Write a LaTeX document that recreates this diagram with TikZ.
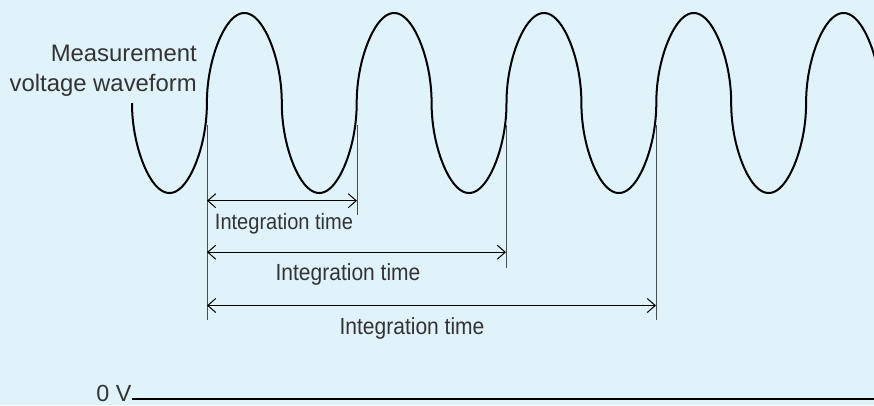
\documentclass[tikz,border=0pt]{standalone}
\usepackage{fontspec}
\setmainfont{Liberation Sans}
\newfontfamily\narrowfont[FakeStretch=0.9]{Liberation Sans}
\usetikzlibrary{arrows.meta}
\definecolor{bgblue}{RGB}{224,243,251}
\definecolor{textgray}{RGB}{51,51,51}

\begin{document}
\begin{tikzpicture}[x=0.75pt, y=-0.75pt,
    wave/.style={line width=1.5pt, black},
    marker/.style={line width=0.75pt, black!70},
    span/.style={{Straight Barb[length=6pt,width=10.5pt]}-{Straight Barb[length=6pt,width=10.5pt]}, line width=0.75pt},
    label/.style={text=textgray, inner sep=0pt},
    declare function={ws(\t)=sin(\t); wc(\t)=cos(\t);
                      wr(\t)=sqrt(1+ws(\t)*ws(\t));
                      wx(\t)=132 + 0.41611*(\t + atan(ws(\t)*wc(\t)*(abs(ws(\t)) - wr(\t))/(wc(\t)*wc(\t)*wr(\t) + ws(\t)*ws(\t)*abs(ws(\t)))));}]

        % Background
        \fill[bgblue] (0,0) rectangle (874,405);
        \useasboundingbox (0,0) rectangle (874,405);

        % Waveform
        \draw[wave] plot[domain=0:1790, samples=900, variable=\t] ({wx(\t)}, {103 + 90*sin(\t)});

        \node[label, anchor=base east, align=right, font=\fontsize{17.9}{22.5}\selectfont] (wavename) at (197,91.7)
            {Measurement\\voltage waveform};

        % Markers
        \foreach \n/\x/\b in {0/207/320, 1/357/215, 2/506/268, 3/656/320} {
            \coordinate (top\n) at (\x,125);
            \coordinate (bot\n) at (\x,\b);
            \draw[marker] (top\n) -- (bot\n);
        }

        % Integration times
        \coordinate (s1) at (207,200.7);
        \coordinate (e1) at (357,200.7);
        \coordinate (s2) at (207,252.2);
        \coordinate (e2) at (506,252.2);
        \coordinate (s3) at (207,305.5);
        \coordinate (e3) at (656,305.5);
        \draw[span] (s1) -- (e1);
        \draw[span] (s2) -- (e2);
        \draw[span] (s3) -- (e3);

        \node[label, anchor=base, font=\fontsize{16.7}{20}\narrowfont] (int1) at (284,229.5) {Integration time};
        \node[label, anchor=base, font=\fontsize{17.5}{21}\narrowfont] (int2) at (348,280.7) {Integration time};
        \node[label, anchor=base, font=\fontsize{17.5}{21}\narrowfont] (int3) at (412,334) {Integration time};

        % 0 V line
        \node[label, anchor=base east, font=\fontsize{17.5}{21}\selectfont] (zero) at (131.7,401) {0 V};
        \coordinate (zend) at (874,399);
        \draw[line width=1.3pt] (zero.east |- zend) -- (zend);

    \end{tikzpicture}
\end{document}
